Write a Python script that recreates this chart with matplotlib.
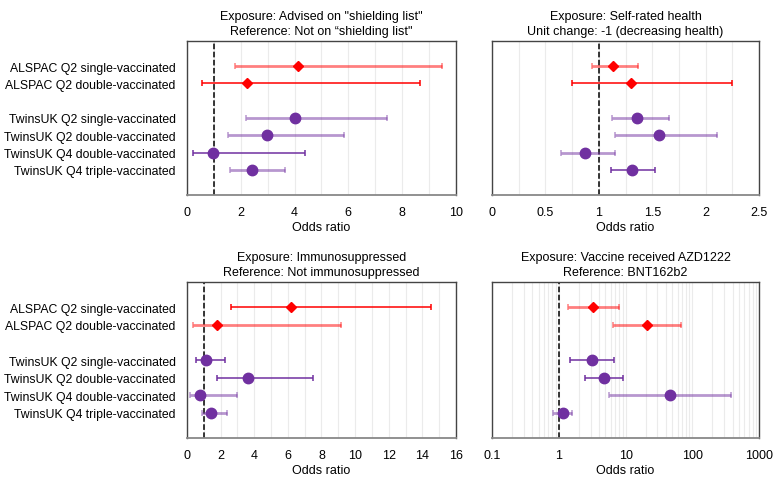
import matplotlib
matplotlib.use("Agg")
import matplotlib.pyplot as plt
from matplotlib.ticker import MultipleLocator, FixedLocator, NullFormatter
import numpy as np

plt.rcParams.update({
    "font.family": ["Liberation Sans", "DejaVu Sans"],
    "font.size": 9,
})

# data
groups = ["ALSPAC Q2 single-vaccinated", "ALSPAC Q2 double-vaccinated",
          "TwinsUK Q2 single-vaccinated", "TwinsUK Q2 double-vaccinated",
          "TwinsUK Q4 double-vaccinated", "TwinsUK Q4 triple-vaccinated"]
cohorts = ["ALSPAC", "ALSPAC", "TwinsUK", "TwinsUK", "TwinsUK", "TwinsUK"]

titles = ['Exposure: Advised on "shielding list"\nReference: Not on \u201cshielding list"',
          "Exposure: Self-rated health\nUnit change: -1 (decreasing health)",
          "Exposure: Immunosuppressed\nReference: Not immunosuppressed",
          "Exposure: Vaccine received AZD1222\nReference: BNT162b2"]

shield_or = [4.13, 2.22, 4.02, 2.99, 0.96, 2.42]
shield_lo = [1.80, 0.57, 2.18, 1.54, 0.21, 1.60]
shield_hi = [9.50, 8.65, 7.42, 5.82, 4.38, 3.65]

health_or = [1.13, 1.30, 1.36, 1.56, 0.87, 1.31]
health_lo = [0.94, 0.75, 1.12, 1.15, 0.65, 1.11]
health_hi = [1.37, 2.25, 1.66, 2.11, 1.15, 1.53]

immuno_or = [6.19, 1.81, 1.11, 3.63, 0.77, 1.45]
immuno_lo = [2.62, 0.36, 0.54, 1.77, 0.20, 0.91]
immuno_hi = [14.53, 9.15, 2.26, 7.50, 2.96, 2.36]

vacc_or = [3.27, 20.9, 3.13, 4.73, 46.8, 1.15]
vacc_lo = [1.38, 6.53, 1.48, 2.51, 5.69, 0.83]
vacc_hi = [7.85, 66.8, 6.61, 9.02, 385.0, 1.60]

# styling
ypos = [0, 1, 3, 4, 5, 6]
colors = {"ALSPAC": "#ff0000", "TwinsUK": "#7030a0"}
markers = {"ALSPAC": "D", "TwinsUK": "o"}
msizes = {"ALSPAC": 5.5, "TwinsUK": 7.5}
# some whiskers are drawn lighter/thicker in the original
light = [[1, 0, 1, 1, 0, 1],
         [1, 0, 1, 1, 1, 0],
         [0, 1, 0, 0, 1, 1],
         [1, 1, 0, 0, 1, 1]]

fig = plt.figure(figsize=(7.81, 4.85), dpi=100)
rects = [[0.2394, 0.5959, 0.3444, 0.3175],
         [0.6300, 0.5959, 0.3420, 0.3175],
         [0.2394, 0.0948, 0.3444, 0.3216],
         [0.6300, 0.0948, 0.3420, 0.3216]]

panels = [(shield_or, shield_lo, shield_hi),
          (health_or, health_lo, health_hi),
          (immuno_or, immuno_lo, immuno_hi),
          (vacc_or, vacc_lo, vacc_hi)]

for k, (est, lo, hi) in enumerate(panels):
    ax = fig.add_axes(rects[k])
    if k == 3:
        ax.set_xscale("log")
    for i in range(len(groups)):
        c = colors[cohorts[i]]
        if light[k][i]:
            lw, al = 2.0, 0.5
        else:
            lw, al = 1.1, 1.0
        ax.errorbar(est[i], ypos[i], xerr=[[est[i] - lo[i]], [hi[i] - est[i]]],
                    fmt="none", ecolor=c, elinewidth=lw, alpha=al, capsize=2,
                    capthick=1.1, zorder=3)
        ax.plot(est[i], ypos[i], marker=markers[cohorts[i]], color=c,
                markersize=msizes[cohorts[i]], linestyle="none", zorder=4)
    ax.axvline(1, color="black", linestyle="--", linewidth=1.1, zorder=2)
    ax.set_ylim(7.45, -1.45)
    ax.set_yticks(ypos)
    if k in (0, 2):
        ax.set_yticklabels(groups, fontsize=8.8)
    else:
        ax.set_yticklabels([])
    ax.tick_params(axis="y", length=0, pad=8)
    ax.tick_params(axis="x", length=0, pad=8, labelsize=9)
    ax.set_xlabel("Odds ratio", fontsize=9, labelpad=2)
    ax.set_title(titles[k], fontsize=9, pad=5, linespacing=1.3)

    if k == 0:
        ax.set_xlim(0, 10)
        ax.xaxis.set_major_locator(MultipleLocator(2))
        ax.xaxis.set_minor_locator(MultipleLocator(1))
    elif k == 1:
        ax.set_xlim(0, 2.5)
        ax.xaxis.set_major_locator(FixedLocator([0, 0.5, 1, 1.5, 2, 2.5]))
        ax.set_xticklabels(["0", "0.5", "1", "1.5", "2", "2.5"])
        ax.xaxis.set_minor_locator(MultipleLocator(0.25))
    elif k == 2:
        ax.set_xlim(0, 16)
        ax.xaxis.set_major_locator(MultipleLocator(2))
        ax.xaxis.set_minor_locator(MultipleLocator(1))
    else:
        ax.set_xlim(0.1, 1000)
        ax.xaxis.set_major_locator(FixedLocator([0.1, 1, 10, 100, 1000]))
        ax.set_xticklabels(["0.1", "1", "10", "100", "1000"])
        ax.xaxis.set_minor_formatter(NullFormatter())
    ax.tick_params(axis="x", which="minor", length=0)
    ax.grid(True, axis="x", which="both", color="#ebebeb", linewidth=0.8, zorder=0)
    ax.set_axisbelow(True)
    for s in ax.spines.values():
        s.set_color("#444444")
        s.set_linewidth(1.0)
    ax.spines["bottom"].set_color("#888888")
    ax.spines["bottom"].set_linewidth(1.3)

fig.savefig("out.png", dpi=100)
